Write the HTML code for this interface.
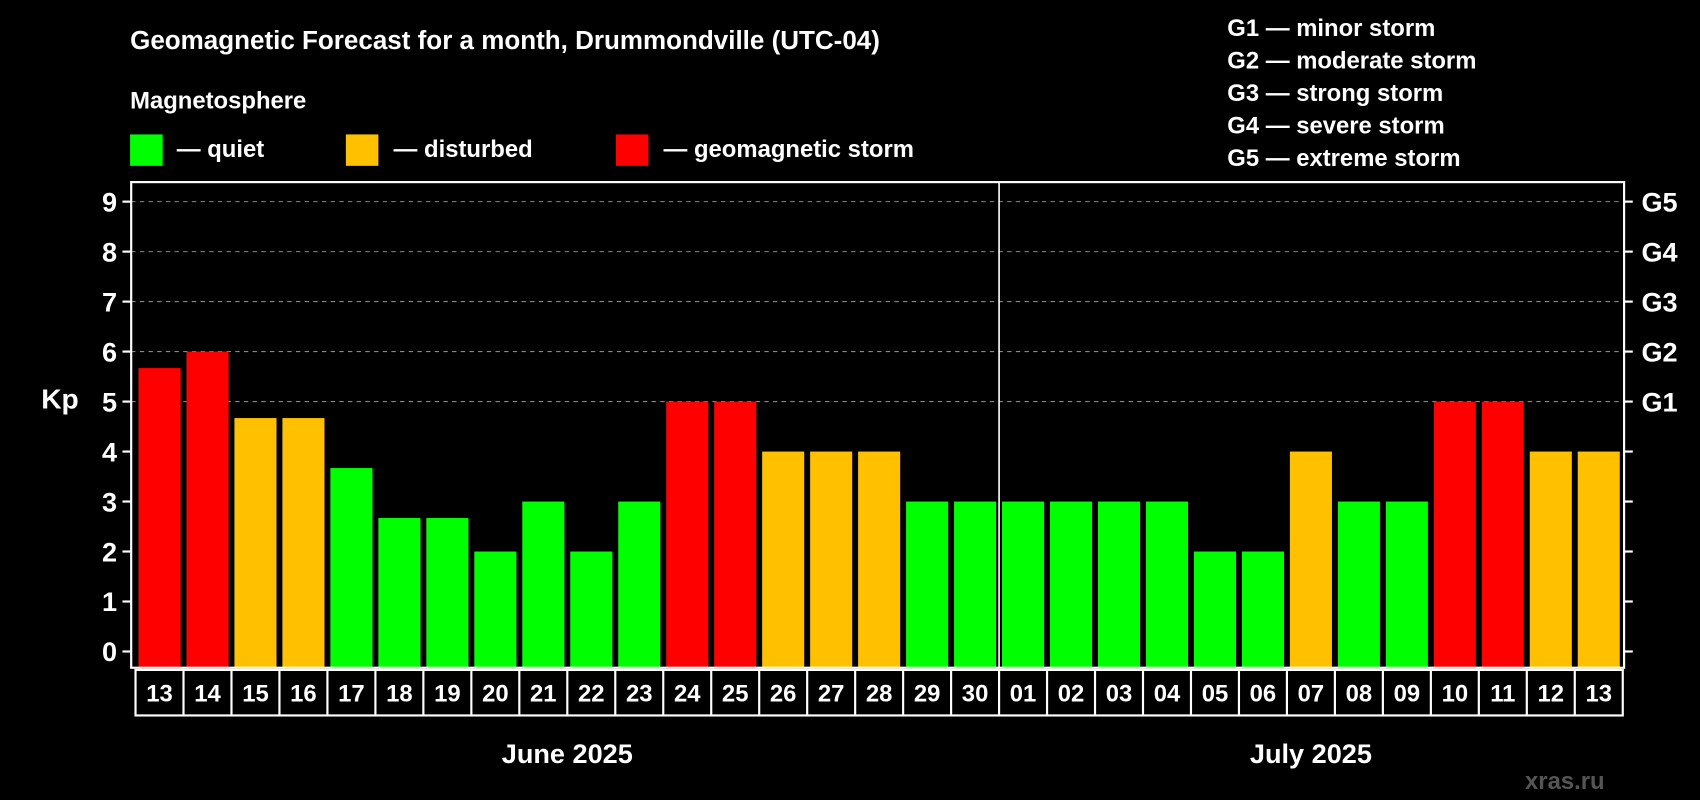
<!DOCTYPE html>
<html><head><meta charset="utf-8"><style>
html,body{margin:0;padding:0;background:#000;}
svg{display:block;font-family:"Liberation Sans",Arial,sans-serif;font-weight:bold;}
</style></head><body>
<svg width="1700" height="800" viewBox="0 0 1568 738" preserveAspectRatio="none">
<rect width="1568" height="738" fill="#000"/>
<text x="120" y="45" fill="#fff" font-size="24">Geomagnetic Forecast for a month, Drummondville (UTC-04)</text>
<text x="120" y="100" fill="#fff" font-size="22">Magnetosphere</text>
<g><rect x="120" y="124" width="30" height="29" fill="#00ff00"/><text x="163" y="145" fill="#fff" font-size="22">— quiet</text></g>
<g><rect x="319" y="124" width="30" height="29" fill="#ffc000"/><text x="363" y="145" fill="#fff" font-size="22">— disturbed</text></g>
<g><rect x="568" y="124" width="30" height="29" fill="#ff0000"/><text x="612" y="145" fill="#fff" font-size="22">— geomagnetic storm</text></g>
<g fill="#fff" font-size="22">
<text x="1132" y="33">G1 — minor storm</text><text x="1132" y="63">G2 — moderate storm</text><text x="1132" y="93">G3 — strong storm</text><text x="1132" y="123">G4 — severe storm</text><text x="1132" y="153">G5 — extreme storm</text>
</g>
<text x="38" y="377" fill="#fff" font-size="26">Kp</text>
<text x="1480" y="728" fill="#555" font-size="22" text-anchor="end">xras.ru</text>
<g id="grid"></g><g id="bars"></g><g id="axes"></g>
</svg>
<script>
const days=["13","14","15","16","17","18","19","20","21","22","23","24","25","26","27","28","29","30","01","02","03","04","05","06","07","08","09","10","11","12","13"];
const kp=[5.67,6,4.67,4.67,3.67,2.67,2.67,2,3,2,3,5,5,4,4,4,3,3,3,3,3,3,2,2,4,3,3,5,5,4,4];
const yTicks=[0,1,2,3,4,5,6,7,8,9];
const gLabels=["G1","G2","G3","G4","G5"];
const months=["June 2025","July 2025"];
const NS="http://www.w3.org/2000/svg";
const L=121,R=1498,T=168,B=616,slot=44.25,x0=125;
const y=v=>601-v*46.11;
const xc=i=>x0+slot*(i+0.5);
function mk(t,a,p){const e=document.createElementNS(NS,t);for(const k in a)e.setAttribute(k,a[k]);p.appendChild(e);return e;}
const grid=document.getElementById('grid'),bars=document.getElementById('bars'),axes=document.getElementById('axes');
yTicks.forEach(v=>{
 if(v>=5){const g=mk('line',{x1:L,x2:R,y1:y(v),y2:y(v),stroke:'#888','stroke-dasharray':'4,4','stroke-width':1},grid);
 
 }
 mk('line',{x1:L-8,x2:L,y1:y(v),y2:y(v),stroke:'#fff','stroke-width':2},axes);
 mk('line',{x1:R,x2:R+8,y1:y(v),y2:y(v),stroke:'#fff','stroke-width':2},axes);
 const t=mk('text',{x:L-13,y:y(v)+9,fill:'#fff','font-size':25,'text-anchor':'end'},axes);t.textContent=v;
 
 
});
gLabels.forEach((g,i)=>{const t=mk('text',{x:R+16,y:y(5+i)+9,fill:'#fff','font-size':25},axes);t.textContent=g;
 
 });
kp.forEach((v,i)=>{
 const c=v>=5?'#ff0000':(v>=4?'#ffc000':'#00ff00');
 const r=mk('rect',{x:xc(i)-19.4,y:y(v),width:38.8,height:B-y(v),fill:c},bars);
 
 
});
mk('rect',{x:L,y:T,width:R-L,height:B-T,fill:'none',stroke:'#fff','stroke-width':2},axes);
mk('line',{x1:x0+slot*18,x2:x0+slot*18,y1:T,y2:B,stroke:'#fff','stroke-width':1.5},axes);
mk('rect',{x:x0,y:618,width:slot*days.length,height:42,fill:'none',stroke:'#fff','stroke-width':2},axes);
days.forEach((d,i)=>{
 if(i>0)mk('line',{x1:x0+slot*i,x2:x0+slot*i,y1:618,y2:660,stroke:'#fff','stroke-width':2},axes);
 const t=mk('text',{x:xc(i),y:647,fill:'#fff','font-size':22,'text-anchor':'middle'},axes);t.textContent=d;
 
 
});
[[0,18],[18,31]].forEach((r,k)=>{const t=mk('text',{x:x0+slot*(r[0]+r[1])/2,y:704,fill:'#fff','font-size':25,'text-anchor':'middle'},axes);t.textContent=months[k];
 
 });
</script>
</body></html>
